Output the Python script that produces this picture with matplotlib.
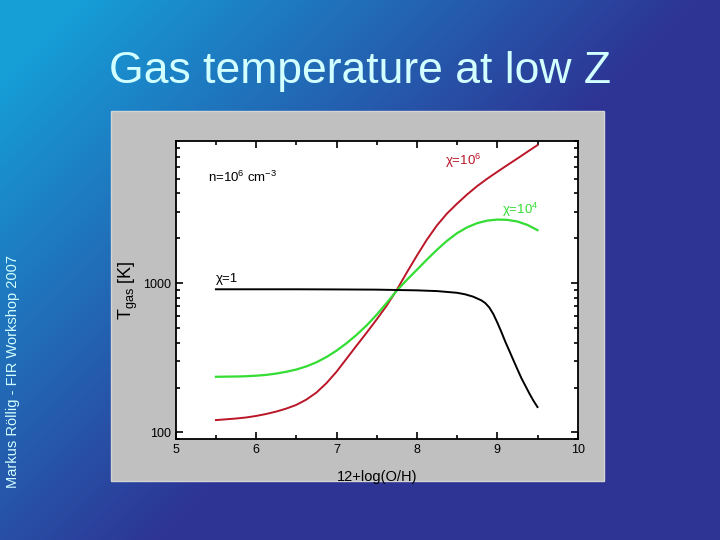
import numpy as np
import matplotlib
matplotlib.use("Agg")
import matplotlib.pyplot as plt
from matplotlib.patches import Rectangle
from matplotlib.ticker import LogLocator, FixedLocator, NullFormatter, MultipleLocator

plt.rcParams['font.family'] = ['Liberation Sans', 'DejaVu Sans']
plt.rcParams['mathtext.fontset'] = 'custom'
plt.rcParams['mathtext.rm'] = 'Liberation Sans'
plt.rcParams['mathtext.it'] = 'Liberation Sans:italic'
plt.rcParams['mathtext.bf'] = 'Liberation Sans:bold'

# ---- data ----
x_chi6 = [5.5, 5.625, 5.75, 5.875, 6.0, 6.125, 6.25, 6.375, 6.5, 6.625, 6.75, 6.875,
          7.0, 7.125, 7.25, 7.375, 7.5, 7.625, 7.75, 7.875, 8.0, 8.125, 8.25, 8.375,
          8.5, 8.625, 8.75, 8.875, 9.0, 9.125, 9.25, 9.375, 9.5]
T_chi6 = [121, 122.5, 124, 126, 129, 133, 138, 144.5, 153, 166, 185, 214,
          255, 312, 382, 466, 572, 708, 902, 1180, 1530, 1960, 2440, 2930,
          3410, 3930, 4470, 5010, 5570, 6180, 6840, 7590, 8410]

x_chi4 = [5.5, 5.625, 5.75, 5.875, 6.0, 6.125, 6.25, 6.375, 6.5, 6.625, 6.75, 6.875,
          7.0, 7.125, 7.25, 7.375, 7.5, 7.625, 7.75, 7.875, 8.0, 8.125, 8.25, 8.375,
          8.5, 8.625, 8.75, 8.875, 9.0, 9.125, 9.25, 9.375, 9.5]
T_chi4 = [236, 236.6, 237, 238, 240, 243, 248, 255, 264, 277, 295, 320,
          353, 396, 451, 521, 615, 738, 891, 1052, 1230, 1440, 1675, 1923,
          2163, 2366, 2523, 2624, 2667, 2655, 2588, 2455, 2265]

x_chi1 = [5.5, 6.0, 6.5, 7.0, 7.5, 7.75, 8.0, 8.25, 8.5, 8.6, 8.7, 8.8, 8.85, 8.9,
          8.95, 9.0, 9.05, 9.1, 9.15, 9.2, 9.25, 9.3, 9.35, 9.4, 9.45, 9.5]
T_chi1 = [910, 910, 910, 908, 905, 900, 895, 885, 862, 842, 812, 768, 736, 688,
          622, 545, 472, 405, 352, 305, 265, 231, 205, 182, 163, 148]

series_labels = ['\u03c7=10$^{6}$', '\u03c7=10$^{4}$', '\u03c7=1']
series_colors = ['#bb1628', '#33dd33', '#000000']

W, H = 720, 540
fig = plt.figure(figsize=(7.2, 5.4), dpi=100)

# ---- slide background gradient ----
bg = fig.add_axes([0, 0, 1, 1], zorder=-10)
yy, xx = np.mgrid[0:H, 0:W]
t = np.clip((xx + yy - 80) / 620.0, 0, 1)[..., None]
c0 = np.array([22, 158, 215]) / 255.0
c1 = np.array([46, 52, 148]) / 255.0
img = c0 * (1 - t) + c1 * t
bg.imshow(img, aspect='auto', extent=[0, 1, 0, 1], origin='upper')
bg.set_xlim(0, 1); bg.set_ylim(0, 1)
bg.axis('off')

# gray panel
bg.add_patch(Rectangle((111 / W, 1 - 481 / H), 493 / W, 370 / H,
                       facecolor='#c0c0c0', edgecolor='#d4d4d4', linewidth=1.0))

# title and side text
fig.text(0.5, 1 - 72 / H, 'Gas temperature at low Z', ha='center', va='center',
         fontsize=32, color='#d2ffff')
fig.text(13 / W, 1 - 372 / H, 'Markus Röllig - FIR Workshop 2007', rotation=90,
         ha='center', va='center', fontsize=10.5, color='#d2ffff')

# ---- plot ----
ax = fig.add_axes([175.7 / W, 1 - 439.3 / H, 402 / W, 298.6 / H])
ax.set_facecolor('white')
ax.plot(x_chi6, T_chi6, color=series_colors[0], lw=1.4)
ax.plot(x_chi4, T_chi4, color=series_colors[1], lw=1.6)
ax.plot(x_chi1, T_chi1, color=series_colors[2], lw=1.4)

ax.set_yscale('log')
ax.set_xlim(5, 10)
ax.set_ylim(90, 9000)
ax.xaxis.set_major_locator(MultipleLocator(1))
ax.xaxis.set_minor_locator(MultipleLocator(0.5))
ax.yaxis.set_major_locator(FixedLocator([100, 1000]))
ax.yaxis.set_minor_locator(LogLocator(base=10, subs=np.arange(2, 10)))
ax.yaxis.set_minor_formatter(NullFormatter())
ax.set_yticklabels(['100', '1000'])
ax.tick_params(which='both', direction='in', top=True, right=True, labelsize=9, width=1.2)
ax.tick_params(which='major', length=5)
ax.tick_params(which='minor', length=3)
for s in ax.spines.values():
    s.set_linewidth(1.3)

ax.set_xlabel('12+log(O/H)', fontsize=10.5, labelpad=10)
ax.set_ylabel('T$_{\\mathrm{gas}}$ [K]', fontsize=13, labelpad=2)

ax.text(5.4, 5100, 'n=10$^{6}$ cm$^{-3}$', fontsize=9.5, ha='left', va='center')
ax.text(8.57, 6600, series_labels[0], color=series_colors[0], fontsize=9.5, ha='center', va='center')
ax.text(9.28, 3100, series_labels[1], color=series_colors[1], fontsize=9.5, ha='center', va='center')
ax.text(5.5, 1060, series_labels[2], color=series_colors[2], fontsize=9.5, ha='left', va='center')

fig.savefig('out.png', dpi=100)
